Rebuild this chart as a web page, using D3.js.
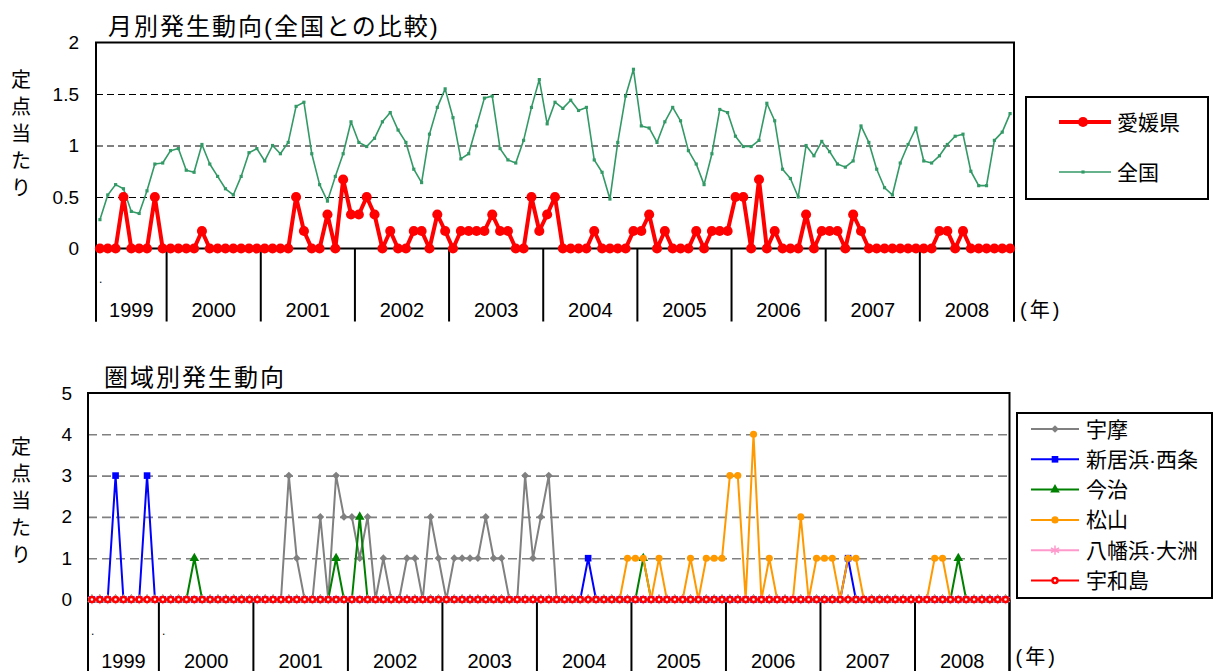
<!DOCTYPE html>
<html>
<head>
<meta charset="utf-8">
<script src="https://cdn.jsdelivr.net/npm/d3@7"></script>
<style>
    body { margin: 0; background: #fff; }
    text { font-family: "Liberation Sans", "Noto Sans CJK JP", sans-serif; fill: #000; }
</style>
</head>
<body>
<svg id="chart" width="1213" height="671"></svg>
<script>
// year groups on the category axis (1999 starts in April)
const YEARS = ['1999', '2000', '2001', '2002', '2003', '2004', '2005', '2006', '2007', '2008'];
const MONTHS = [9, 12, 12, 12, 12, 12, 12, 12, 12, 12];

// top chart: 愛媛県 vs 全国 (per sentinel point)
const EHIME = [
    0, 0, 0, 0.5, 0, 0, 0, 0.5, 0,
    0, 0, 0, 0, 0.17, 0, 0, 0, 0, 0, 0, 0,
    0, 0, 0, 0, 0.5, 0.17, 0, 0, 0.33, 0, 0.67, 0.33,
    0.33, 0.5, 0.33, 0, 0.17, 0, 0, 0.17, 0.17, 0, 0.33, 0.17,
    0, 0.17, 0.17, 0.17, 0.17, 0.33, 0.17, 0.17, 0, 0, 0.5, 0.17,
    0.33, 0.5, 0, 0, 0, 0, 0.17, 0, 0, 0, 0, 0.17,
    0.17, 0.33, 0, 0.17, 0, 0, 0, 0.17, 0, 0.17, 0.17, 0.17,
    0.5, 0.5, 0, 0.67, 0, 0.17, 0, 0, 0, 0.33, 0, 0.17,
    0.17, 0.17, 0, 0.33, 0.17, 0, 0, 0, 0, 0, 0, 0,
    0, 0, 0.17, 0.17, 0, 0.17, 0, 0, 0, 0, 0, 0,
];
const ZENKOKU = [
    0.28, 0.52, 0.62, 0.58, 0.36, 0.34, 0.56, 0.82, 0.83,
    0.95, 0.97, 0.76, 0.74, 1.01, 0.82, 0.70, 0.58, 0.52, 0.70, 0.93, 0.97,
    0.85, 1.00, 0.92, 1.03, 1.38, 1.42, 0.92, 0.62, 0.46, 0.70, 0.92, 1.23,
    1.03, 0.99, 1.07, 1.23, 1.32, 1.15, 1.03, 0.77, 0.64, 1.11, 1.37, 1.55,
    1.27, 0.87, 0.92, 1.19, 1.46, 1.48, 0.97, 0.86, 0.83, 1.05, 1.37, 1.64,
    1.21, 1.42, 1.36, 1.44, 1.34, 1.37, 0.86, 0.74, 0.48, 1.03, 1.48, 1.74,
    1.19, 1.17, 1.03, 1.23, 1.37, 1.24, 0.95, 0.82, 0.62, 0.92, 1.35, 1.32,
    1.09, 0.99, 0.99, 1.05, 1.41, 1.24, 0.77, 0.68, 0.50, 1.00, 0.90, 1.04,
    0.94, 0.82, 0.79, 0.85, 1.19, 1.03, 0.77, 0.59, 0.52, 0.83, 1.01, 1.17,
    0.85, 0.83, 0.90, 1.01, 1.09, 1.11, 0.75, 0.61, 0.61, 1.05, 1.13, 1.31,
];

// bottom chart: each area
const UMA = [
    0, 0, 0, 0, 0, 0, 0, 0, 0,
    0, 0, 0, 0, 0, 0, 0, 0, 0, 0, 0, 0,
    0, 0, 0, 0, 3, 1, 0, 0, 2, 0, 3, 2,
    2, 1, 2, 0, 1, 0, 0, 1, 1, 0, 2, 1,
    0, 1, 1, 1, 1, 2, 1, 1, 0, 0, 3, 1,
    2, 3, 0, 0, 0, 0, 0, 0, 0, 0, 0, 0,
    0, 0, 0, 0, 0, 0, 0, 0, 0, 0, 0, 0,
    0, 0, 0, 0, 0, 0, 0, 0, 0, 0, 0, 0,
    0, 0, 0, 0, 0, 0, 0, 0, 0, 0, 0, 0,
    0, 0, 0, 0, 0, 0, 0, 0, 0, 0, 0, 0,
];
const NIIHAMA_SAIJO = [
    0, 0, 0, 3, 0, 0, 0, 3, 0,
    0, 0, 0, 0, 0, 0, 0, 0, 0, 0, 0, 0,
    0, 0, 0, 0, 0, 0, 0, 0, 0, 0, 0, 0,
    0, 0, 0, 0, 0, 0, 0, 0, 0, 0, 0, 0,
    0, 0, 0, 0, 0, 0, 0, 0, 0, 0, 0, 0,
    0, 0, 0, 0, 0, 0, 1, 0, 0, 0, 0, 0,
    0, 0, 0, 0, 0, 0, 0, 0, 0, 0, 0, 0,
    0, 0, 0, 0, 0, 0, 0, 0, 0, 0, 0, 0,
    0, 0, 0, 1, 0, 0, 0, 0, 0, 0, 0, 0,
    0, 0, 0, 0, 0, 0, 0, 0, 0, 0, 0, 0,
];
const IMABARI = [
    0, 0, 0, 0, 0, 0, 0, 0, 0,
    0, 0, 0, 0, 1, 0, 0, 0, 0, 0, 0, 0,
    0, 0, 0, 0, 0, 0, 0, 0, 0, 0, 1, 0,
    0, 2, 0, 0, 0, 0, 0, 0, 0, 0, 0, 0,
    0, 0, 0, 0, 0, 0, 0, 0, 0, 0, 0, 0,
    0, 0, 0, 0, 0, 0, 0, 0, 0, 0, 0, 0,
    0, 1, 0, 0, 0, 0, 0, 0, 0, 0, 0, 0,
    0, 0, 0, 0, 0, 0, 0, 0, 0, 0, 0, 0,
    0, 0, 0, 0, 0, 0, 0, 0, 0, 0, 0, 0,
    0, 0, 0, 0, 0, 1, 0, 0, 0, 0, 0, 0,
];
const MATSUYAMA = [
    0, 0, 0, 0, 0, 0, 0, 0, 0,
    0, 0, 0, 0, 0, 0, 0, 0, 0, 0, 0, 0,
    0, 0, 0, 0, 0, 0, 0, 0, 0, 0, 0, 0,
    0, 0, 0, 0, 0, 0, 0, 0, 0, 0, 0, 0,
    0, 0, 0, 0, 0, 0, 0, 0, 0, 0, 0, 0,
    0, 0, 0, 0, 0, 0, 0, 0, 0, 0, 0, 1,
    1, 1, 0, 1, 0, 0, 0, 1, 0, 1, 1, 1,
    3, 3, 0, 4, 0, 1, 0, 0, 0, 2, 0, 1,
    1, 1, 0, 1, 1, 0, 0, 0, 0, 0, 0, 0,
    0, 0, 1, 1, 0, 0, 0, 0, 0, 0, 0, 0,
];
const YAWATAHAMA_OZU = new Array(117).fill(0);
const UWAJIMA = new Array(117).fill(0);

const TOP_TICKS = [0, 0.5, 1, 1.5, 2];
const BOT_TICKS = [0, 1, 2, 3, 4, 5];
const Y_LABEL = ['定', '点', '当', 'た', 'り'];

const SVG = d3.select('#chart');
const N = EHIME.length;
const IDX = d3.range(N);
const FONT = 20;

// band scale helper
function band_helper(left, right) {
    return d3.scaleBand().domain(IDX).range([left, right]).paddingInner(0).paddingOuter(0);
}
function linearScale_helper(d_start, d_end, r_start, r_end) {
    return d3.scaleLinear().domain([d_start, d_end]).range([r_start, r_end]);
}
const cx = (x) => (d, i) => x(i) + x.bandwidth() / 2;

// frame, grid, y labels, year axis
function frame_helper(x, y, ticks, gridColor, gridWidth, dash, pad, labelYs) {
    const [left, right] = x.range();
    const top = y(y.domain()[1]);
    const zero = y(0);
    const axisBottom = zero + 73;

    const grid = SVG.append('g').attr('transform', `translate(${left},0)`)
        .call(d3.axisLeft(y).tickValues(ticks).tickSize(-(right - left)).tickPadding(pad).tickFormat(d3.format('')));
    grid.select('.domain').remove();
    grid.selectAll('.tick line')
        .attr('stroke', gridColor)
        .attr('stroke-width', gridWidth)
        .attr('stroke-dasharray', dash)
        .style('display', d => (d === 0 || d === ticks[ticks.length - 1]) ? 'none' : null);
    grid.selectAll('.tick text').style('font-size', '19px').attr('fill', '#000');

    // plot border top + right, left axis, zero line
    SVG.append('path')
        .attr('d', `M${left},${axisBottom}V${top}H${right}V${axisBottom}`)
        .attr('fill', 'none').attr('stroke', '#000').attr('stroke-width', 2);
    SVG.append('line')
        .attr('x1', left).attr('x2', right).attr('y1', zero).attr('y2', zero)
        .attr('stroke', '#000').attr('stroke-width', 2);

    // year separators and labels
    const cum = [0, ...d3.cumsum(MONTHS)];
    const edge = k => left + k * x.step();
    SVG.append('g').selectAll('line').data(cum).join('line')
        .attr('x1', d => edge(d)).attr('x2', d => edge(d))
        .attr('y1', zero).attr('y2', axisBottom)
        .attr('stroke', '#000').attr('stroke-width', 2);
    SVG.append('g').selectAll('text').data(YEARS).join('text')
        .attr('x', (d, i) => (edge(cum[i]) + edge(cum[i + 1])) / 2)
        .attr('y', zero + 68)
        .attr('text-anchor', 'middle')
        .style('font-size', FONT + 'px')
        .text(d => d);
    SVG.append('text').attr('x', right + 6).attr('y', zero + (labelYs.nen))
        .style('font-size', FONT + 'px').style('letter-spacing', '3px').text('(年)');

    // vertical y title
    SVG.append('g').selectAll('text').data(Y_LABEL).join('text')
        .attr('x', 21)
        .attr('y', (d, i) => labelYs.title + i * 27)
        .attr('text-anchor', 'middle')
        .attr('dominant-baseline', 'central')
        .style('font-size', FONT + 'px')
        .text(d => d);
}

function series_helper(x, y, data, color, width) {
    SVG.append('path').datum(data)
        .attr('d', d3.line().x(cx(x)).y(d => y(d)))
        .attr('fill', 'none').attr('stroke', color).attr('stroke-width', width)
        .attr('stroke-linejoin', 'round');
}

function marker_helper(x, y, data, sym) {
    SVG.append('g').selectAll('path').data(data).join('path')
        .attr('transform', (d, i) => `translate(${cx(x)(d, i)},${y(d)}) rotate(${sym.rot || 0})`)
        .attr('d', d3.symbol().type(sym.type).size(sym.size))
        .attr('fill', sym.fill).attr('stroke', sym.stroke || 'none').attr('stroke-width', sym.sw || 0);
}

// ---------- top chart ----------
const X_TOP = band_helper(96, 1014);
const Y_TOP = linearScale_helper(0, 2, 248.5, 42.5);
frame_helper(X_TOP, Y_TOP, TOP_TICKS, '#000', 1, '7,4', 17, { title: 80, nen: 68 });

SVG.append('text').attr('x', 108).attr('y', 35).style('font-size', '24px').style('letter-spacing', '2px')
    .text('月別発生動向(全国との比較)');
SVG.append('text').attr('x', 99).attr('y', 283).style('font-size', '12px').text('.');

const TOP_SERIES = [
    { name: '愛媛県', data: EHIME, color: '#FF0000', width: 4, sym: { type: d3.symbolCircle, size: 80, fill: '#FF0000' } },
    { name: '全国', data: ZENKOKU, color: '#339966', width: 1.6, sym: { type: d3.symbolSquare, size: 10, fill: '#339966' } },
];
[...TOP_SERIES].reverse().forEach(s => {
    series_helper(X_TOP, Y_TOP, s.data, s.color, s.width);
    marker_helper(X_TOP, Y_TOP, s.data, s.sym);
});

// top legend
SVG.append('rect').attr('x', 1026).attr('y', 97).attr('width', 182).attr('height', 102)
    .attr('fill', '#fff').attr('stroke', '#000').attr('stroke-width', 2);
TOP_SERIES.forEach((s, i) => {
    const ly = 122 + i * 50;
    SVG.append('line').attr('x1', 1059).attr('x2', 1111).attr('y1', ly).attr('y2', ly)
        .attr('stroke', s.color).attr('stroke-width', s.width);
    SVG.append('path').attr('transform', `translate(1083,${ly})`)
        .attr('d', d3.symbol().type(s.sym.type).size(s.sym.size)).attr('fill', s.sym.fill);
    SVG.append('text').attr('x', 1117).attr('y', ly).attr('dominant-baseline', 'central')
        .style('font-size', '21px').text(s.name);
});

// ---------- bottom chart ----------
const X_BOT = band_helper(88, 1009.5);
const Y_BOT = linearScale_helper(0, 5, 599.5, 393);
frame_helper(X_BOT, Y_BOT, BOT_TICKS, '#808080', 1.6, '9,5', 16, { title: 447, nen: 64 });

SVG.append('text').attr('x', 104).attr('y', 386).style('font-size', '24px').style('letter-spacing', '2px')
    .text('圏域別発生動向');
SVG.append('text').attr('x', 91).attr('y', 635).style('font-size', '12px').text('.');
SVG.append('text').attr('x', 162).attr('y', 635).style('font-size', '12px').text('.');

const ASTER = d3.symbolAsterisk || d3.symbolCross;
const BOT_SERIES = [
    { name: '宇摩', data: UMA, color: '#808080', sym: { type: d3.symbolSquare, size: 30, rot: 45, fill: '#808080' } },
    { name: '新居浜·西条', data: NIIHAMA_SAIJO, color: '#0000FF', sym: { type: d3.symbolSquare, size: 44, fill: '#0000FF' } },
    { name: '今治', data: IMABARI, color: '#008000', sym: { type: d3.symbolTriangle, size: 40, fill: '#008000' } },
    { name: '松山', data: MATSUYAMA, color: '#FF9900', sym: { type: d3.symbolCircle, size: 40, fill: '#FF9900' } },
    { name: '八幡浜·大洲', data: YAWATAHAMA_OZU, color: '#FF99CC', sym: { type: ASTER, size: 60, fill: 'none', stroke: '#FF99CC', sw: 1.5 } },
    { name: '宇和島', data: UWAJIMA, color: '#FF0000', sym: { type: d3.symbolCircle, size: 20, fill: '#fff', stroke: '#FF0000', sw: 2.5 } },
];
BOT_SERIES.forEach(s => {
    series_helper(X_BOT, Y_BOT, s.data, s.color, 2);
    marker_helper(X_BOT, Y_BOT, s.data, s.sym);
});

// bottom legend
SVG.append('rect').attr('x', 1017).attr('y', 413).attr('width', 195).attr('height', 185)
    .attr('fill', '#fff').attr('stroke', '#000').attr('stroke-width', 2);
BOT_SERIES.forEach((s, i) => {
    const ly = 429 + i * 30.3;
    SVG.append('line').attr('x1', 1031).attr('x2', 1079).attr('y1', ly).attr('y2', ly)
        .attr('stroke', s.color).attr('stroke-width', 2);
    SVG.append('path').attr('transform', `translate(1055,${ly}) rotate(${s.sym.rot || 0})`)
        .attr('d', d3.symbol().type(s.sym.type).size(s.sym.size))
        .attr('fill', s.sym.fill).attr('stroke', s.sym.stroke || 'none').attr('stroke-width', s.sym.sw || 0);
    SVG.append('text').attr('x', 1086).attr('y', ly).attr('dominant-baseline', 'central')
        .style('font-size', '21px').text(s.name);
});
</script>
</body>
</html>
